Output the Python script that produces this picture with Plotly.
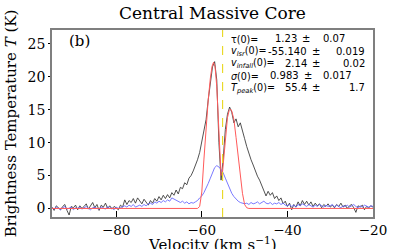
import numpy as np
import plotly.graph_objects as go

# channel grid (km/s)
vel = np.arange(-95.0, -19.99, 0.5)

black_T = [
    0.2, -0.3, 0.4, 0.1, -0.2, 0.3, 0.6, -0.3, -1.0, 0.3,
    0.1, 0.5, -0.2, 0.4, 0.0, 0.3, 0.7, -0.1, 0.4, 0.9,
    0.1, 0.6, -0.3, 0.5, 0.2, 0.8, 0.0, 0.4, -0.1, 0.3,
    0.1, -0.2, 0.5, 0.2, 1.3, 0.6, 1.2, 0.9, 1.5, 0.8,
    1.6, 1.1, 0.7, 1.4, 1.0, 0.5, 1.2, 0.8, 1.5, 1.1,
    1.8, 1.3, 2.0, 1.5, 2.1, 1.6, 2.4, 2.0, 2.8, 2.2,
    3.2, 3.0, 3.9, 3.6, 4.6, 5.0, 5.7, 6.5, 7.4, 8.5,
    10.0, 11.5, 13.5, 16.5, 19.0, 21.5, 22.3, 19.5,
    10.0, 4.3, 7.5, 12.0, 14.3, 15.4, 14.6, 13.0, 13.6, 12.4,
    13.0, 11.6, 10.6, 9.4, 8.2, 7.4, 6.6, 5.7, 4.9, 4.3,
    3.4, 2.7, 1.9, 2.6, 2.0, 2.4, 1.5, 1.9, 1.2, 1.6,
    0.7, 1.1, 0.3, 0.8, -0.2, 0.6, 0.2, 1.0, 0.4, 1.2,
    0.6, 1.1, 0.5, 1.0, 0.3, 0.8, 0.4, 0.7, 0.1, 0.6,
    0.3, 0.7, 0.2, 0.5, 0.1, 0.6, 0.3, 0.8, 0.2, 0.5,
    0.0, 0.4, 0.6, 0.1, -0.6, 0.4, 0.2, 0.5, -0.2, 0.3,
    0.1, 0.4, 0.2,
]

blue_T = [
    0.1, -0.1, 0.2, 0.0, -0.2, 0.1, 0.3, -0.1, 0.0, 0.2,
    -0.2, 0.1, 0.0, 0.2, -0.1, 0.1, 0.3, 0.0, -0.2, 0.1,
    0.2, 0.0, -0.1, 0.2, 0.1, -0.1, 0.3, 0.0, 0.1, -0.2,
    0.2, 0.0, 0.1, 0.3,
    0.4, 0.2, 0.5, 0.3, 0.6, 0.2, 0.4, 0.5, 0.3, 0.6, 0.4, 0.7,
    0.8, 0.6, 1.0, 0.8, 1.1, 0.9, 1.2, 1.0, 1.3, 1.1, 1.6, 1.4,
    1.2, 1.0, 0.9, 1.1, 0.8, 1.0, 0.7, 0.9, 0.8, 1.0, 1.2, 1.6,
    1.9, 2.4, 3.0, 3.8, 4.6, 5.5, 6.2, 6.5, 6.3, 5.9,
    5.4, 4.6, 3.8, 3.0, 2.3, 1.8, 1.4, 1.1, 0.9, 0.8,
    0.7, 0.8, 0.6, 0.9, 0.7, 0.8, 1.0, 0.7, 0.9, 1.1,
    0.8, 0.7, 0.9, 0.6, 0.8, 0.7, 0.9, 0.6, 0.8, 0.5,
    0.4, 0.6, 0.3, 0.5, 0.2, 0.6, 0.4, 0.7, 0.5, 0.3,
    0.6, 0.4, 0.2, 0.5, 0.3, 0.6, 0.4, 0.2, 0.5, 0.3,
    0.4, 0.6, 0.2, 0.5, 0.3, 0.1, 0.4, 0.3, 0.5, 0.2,
    0.4, 0.6, 0.3, 0.1, 0.4, 0.2, 0.5, 0.3, 0.2, 0.4,
    0.3,
]

model_v = [-95, -61, -60.5, -60, -59.5, -59, -58.5, -58, -57.6, -57.25, -56.9,
           -56.5, -56.1, -55.8, -55.5, -55.2, -54.9, -54.5, -54, -53.6, -53.3,
           -53, -52.5, -52, -51.5, -51, -50.5, -50, -49.5, -49, -20]
model_T = [0, 0, 0.3, 2.5, 7.5, 12.5, 16.5, 19.8, 21.6, 22.2, 21.5,
           18.5, 12.5, 7.5, 5.0, 5.2, 7.5, 11.0, 13.8, 14.9, 15.1,
           14.8, 13.5, 10.8, 8.0, 5.2, 2.3, 0.6, 0.1, 0, 0]

v_lsr = -55.140

x_ticks = [-80, -60, -40, -20]
x_tick_text = ["−80", "−60", "−40", "−20"]
y_ticks = [0, 5, 10, 15, 20, 25]

# fit results: label, value, error
fit_labels = [
    "τ(0)=",
    "<i>v</i><sub><i>lsr</i></sub>(0)=",
    "<i>v</i><sub><i>infall</i></sub>(0)=",
    "<i>σ</i>(0)=",
    "<i>T</i><sub><i>peak</i></sub>(0)=",
]
fit_values = ["1.23", "-55.140", "2.14", "0.983", "55.4"]
fit_errors = ["0.07", "0.019", "0.02", "0.017", "1.7"]

assert len(black_T) == len(vel) and len(blue_T) == len(vel)

fig = go.Figure()
fig.add_trace(go.Scatter(x=vel, y=black_T, mode="lines",
                         line=dict(color="#262626", width=0.8), showlegend=False))
fig.add_trace(go.Scatter(x=vel, y=blue_T, mode="lines",
                         line=dict(color="#6a6aff", width=0.9), showlegend=False))
fig.add_trace(go.Scatter(x=model_v, y=model_T, mode="lines",
                         line=dict(color="#ff5a5a", width=1.0), showlegend=False))

fig.add_shape(type="line", xref="x", yref="paper", x0=v_lsr, x1=v_lsr, y0=0, y1=1,
              line=dict(color="#e8d820", width=1.1, dash="dash"))

serif = "DejaVu Serif"
sans = "DejaVu Sans"

W, H = 415, 249
L, R, T, B = 52, 373, 30, 217
pw, ph = R - L, B - T

def px(xp):
    return (xp - L) / pw

def py(yp):
    return (B - yp) / ph

anns = []
anns.append(dict(text="(b)", x=px(67), y=py(41), xref="paper", yref="paper",
                 xanchor="left", yanchor="middle", showarrow=False,
                 font=dict(family=serif, size=15, color="black")))

# x-axis title (placed like the reference: partly below the picture edge)
anns.append(dict(text="Velocity (km s<sup>−1</sup>)", x=0.5, y=py(244), xref="paper",
                 yref="paper", xanchor="center", yanchor="middle", showarrow=False,
                 font=dict(family=serif, size=15, color="black")))

row_y = [39.5, 51.8, 64.0, 76.2, 88.5]
val_right = [298, 308, 308, 300, 308]
pm_left = [300.5, 310.5, 310.5, 302.5, 310.5]
err_right = [346, 366, 366, 353, 366]
tf = dict(family=sans, size=10, color="black")
lf = dict(family=sans, size=9.6, color="black")
for i in range(len(fit_labels)):
    yy = py(row_y[i])
    anns.append(dict(text=fit_labels[i], x=px(230), y=yy, xref="paper", yref="paper",
                     xanchor="left", yanchor="middle", showarrow=False, borderpad=0, font=lf))
    anns.append(dict(text=fit_values[i], x=px(val_right[i]), y=py(row_y[i] - 0.8),
                     xref="paper", yref="paper", xanchor="right", yanchor="middle",
                     showarrow=False, borderpad=0, font=tf))
    anns.append(dict(text="±", x=px(pm_left[i]), y=py(row_y[i] - 0.8),
                     xref="paper", yref="paper", xanchor="left", yanchor="middle",
                     showarrow=False, borderpad=0, font=tf))
    anns.append(dict(text=fit_errors[i], x=px(err_right[i]), y=py(row_y[i] - 0.8),
                     xref="paper", yref="paper", xanchor="right", yanchor="middle",
                     showarrow=False, borderpad=0, font=tf))

fig.update_layout(
    width=W, height=H,
    margin=dict(l=L, r=W - R, t=T, b=H - B, pad=0, autoexpand=False),
    paper_bgcolor="white", plot_bgcolor="white",
    title=dict(text="Central Massive Core", x=(L + R) / 2 / W, xanchor="center",
               y=1 - 13 / H, yanchor="middle", yref="container",
               font=dict(family=serif, size=17, color="black")),
    annotations=anns,
    xaxis=dict(range=[-95, -20], tickvals=x_ticks, ticktext=x_tick_text,
               ticks="inside", ticklen=6, tickwidth=1.2, tickcolor="black",
               showline=True, linecolor="#7f7f7f", linewidth=1.5, mirror=True,
               showgrid=False, zeroline=False, automargin=False,
               tickfont=dict(family=serif, size=13.5, color="black")),
    yaxis=dict(range=[-1.3, 27.1], tickvals=y_ticks,
               ticks="outside", ticklen=2, tickwidth=1.2, tickcolor="black",
               showline=True, linecolor="#7f7f7f", linewidth=1.5, mirror=True,
               showgrid=False, zeroline=False, automargin=False,
               tickfont=dict(family=serif, size=14, color="black"),
               title=dict(text="Brightness Temperature <i>T</i> (K)", standoff=7,
                          font=dict(family=serif, size=15, color="black"))),
)

fig.write_html("out.html", config={"displayModeBar": False},
               post_script="document.body.style.margin='0';document.body.style.padding='0';")
